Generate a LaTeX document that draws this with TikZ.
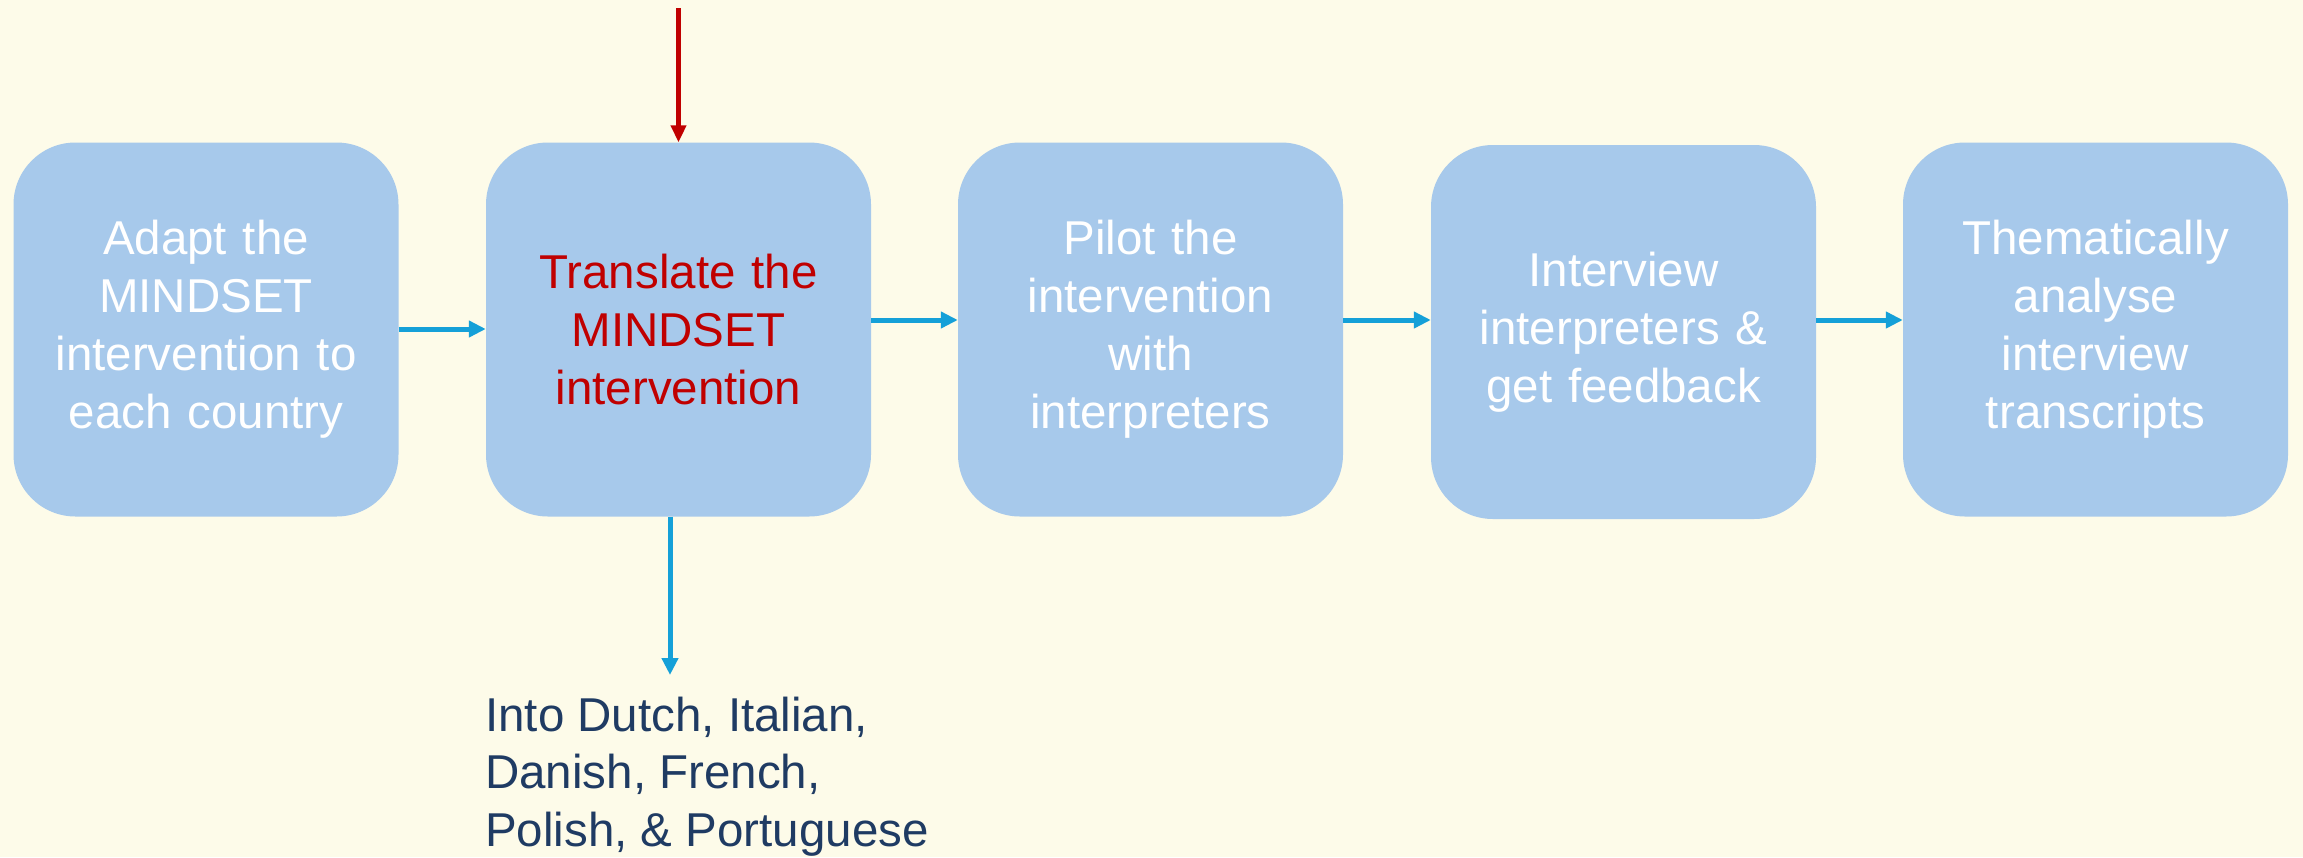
\documentclass[tikz,border=0pt]{standalone}
\usepackage{fontspec}
\setmainfont{Liberation Sans}
\usetikzlibrary{arrows.meta}
\definecolor{bg}{HTML}{FDFBE9}
\definecolor{boxfill}{HTML}{A7C9EB}
\definecolor{arrblue}{HTML}{15A0D8}
\definecolor{redc}{HTML}{C00000}
\definecolor{navy}{HTML}{1F3B63}
\tikzset{
  stepbox/.style={fill=boxfill, draw=none, rounded corners=62pt, minimum width=385pt, minimum height=374pt,
    text width=340pt, align=center, text=white, font=\fontsize{47.5}{58}\selectfont, inner sep=0pt},
  flow/.style={draw=arrblue, line width=5pt, -{Triangle[length=17pt,width=16pt]}},
  redflow/.style={draw=redc, line width=4.6pt, -{Triangle[length=17pt,width=15pt]}},
}
\begin{document}
\begin{tikzpicture}[x=1pt,y=-1pt]
\fill[bg] (0,0) rectangle (2303,857);
\useasboundingbox (0,0) rectangle (2303,857);
\node[stepbox] (b1) at (206,329.5) {Adapt the MINDSET intervention to each country};
\node[stepbox, text=redc] (b2) at (678.5,329.5) {Translate the\\MINDSET\\intervention};
\node[stepbox] (b3) at (1150.5,329.5) {Pilot the\\intervention\\with\\interpreters};
\node[stepbox] (b4) at (1623.5,332) {Interview\\interpreters \&\\get feedback};
\node[stepbox] (b5) at (2095.5,329.5) {Thematically\\analyse\\interview\\transcripts};
\coordinate (rtop) at (678.5,8);
\coordinate (bend) at (670,675);
\node[anchor=north west, align=left, text=navy, font=\fontsize{47.5}{57.3}\selectfont, inner sep=0pt] (lang) at (485,697)
  {Into Dutch, Italian,\\Danish, French,\\Polish, \& Portuguese};
\draw[flow] (b1.east |- 0,329) -- (b2.west |- 0,329);
\draw[flow] (b2.east |- 0,320) -- (b3.west |- 0,320);
\draw[flow] (b3.east |- 0,320) -- (b4.west |- 0,320);
\draw[flow] (b4.east |- 0,320) -- (b5.west |- 0,320);
\draw[redflow] (rtop) -- (b2.north);
\draw[flow] (b2.south -| bend) -- (bend);
\end{tikzpicture}
\end{document}
